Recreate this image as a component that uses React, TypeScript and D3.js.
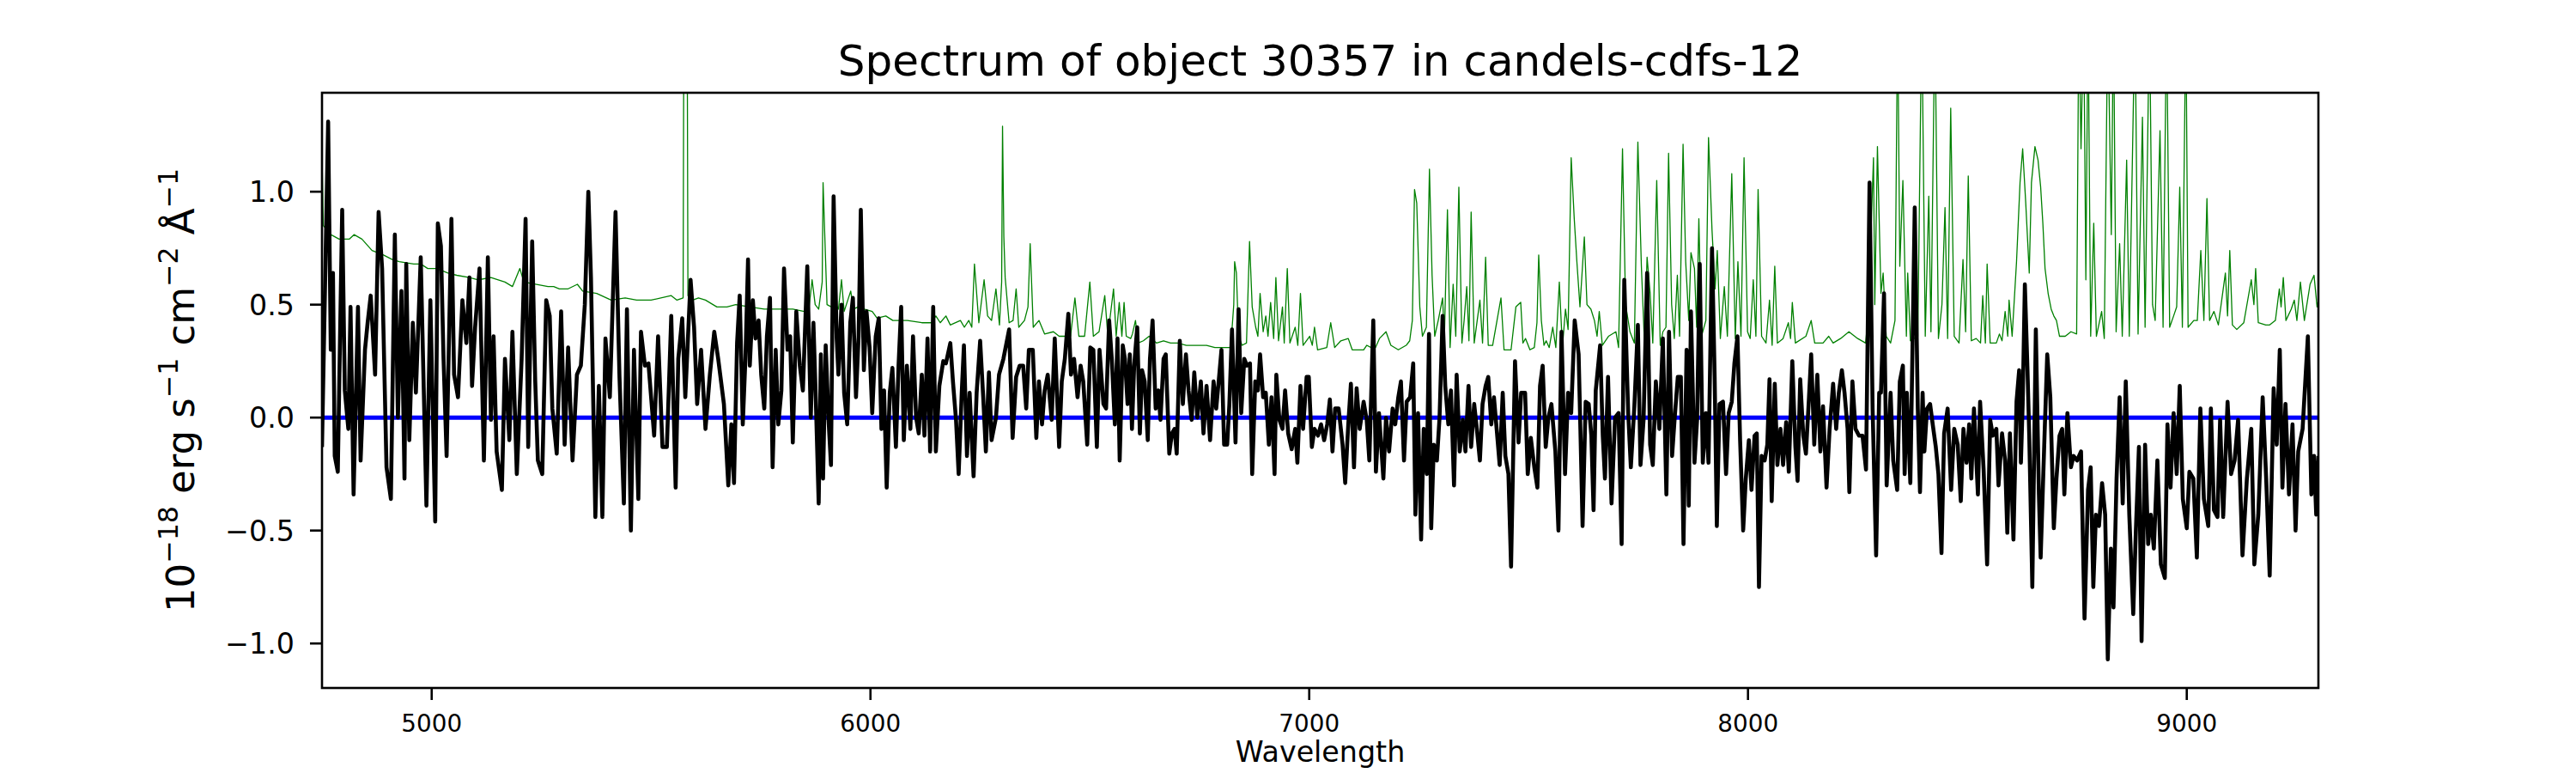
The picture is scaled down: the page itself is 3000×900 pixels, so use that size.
import { useMemo } from "react";
import * as d3 from "d3";

// plot frame (px) and axis limits
const width = 3000;
const height = 900;
const plot = { left: 375, right: 2700, top: 108, bottom: 801 };
const xDomain: [number, number] = [4750, 9300];
const yDomain: [number, number] = [-1.197, 1.438];
const xTicks = [5000, 6000, 7000, 8000, 9000];
const yTicks = [-1.0, -0.5, 0.0, 0.5, 1.0];
const zeroLevel = 0;

// flux: [wavelength, 1e-18 erg/s/cm2/A]
const fluxBlue: [number, number][] = [
  [4750,-0.13],[4764,1.31],[4770,0.30],[4775,0.64],[4779,-0.17],[4786,-0.24],[4796,0.92],[4802,0.12],[4810,-0.05],[4815,0.49],[4822,-0.34],[4832,0.49],[4838,-0.19],[4848,0.30],[4854,0.42],[4861,0.54],[4871,0.19],[4879,0.91],[4887,0.66],[4897,-0.22],[4907,-0.36],[4916,0.81],[4923,0.00],[4931,0.56],[4938,-0.27],[4942,0.68],[4949,-0.10],[4957,0.42],[4964,0.11],[4975,0.71],[4988,-0.39],[4997,0.52],[5008,-0.46],[5014,0.86],[5021,0.76],[5027,0.26],[5034,-0.17],[5045,0.88],[5051,0.19],[5060,0.09],[5070,0.52],[5079,0.33],[5086,0.62],[5092,0.14],[5099,0.40],[5109,0.66],[5119,-0.19],[5128,0.71],[5135,-0.01],[5141,0.36],[5148,-0.15],[5160,-0.32],[5167,0.26],[5177,-0.10],[5184,0.38],[5194,-0.25],[5205,0.26],[5214,0.88],[5220,-0.13],[5229,0.78],[5236,0.16],[5242,-0.19],[5252,-0.25],[5261,0.52],[5269,0.45],[5275,0.04],[5285,-0.16],[5295,0.47],[5303,-0.12],[5311,0.31],[5321,-0.19],[5331,0.19],[5340,0.23],[5349,0.50],[5357,1.00],[5363,0.62],[5373,-0.44],[5381,0.14],[5389,-0.44],[5396,0.35],[5406,0.09],[5419,0.91],[5428,0.18],[5438,-0.38],[5445,0.48],[5454,-0.50],[5461,0.30],[5471,-0.36],[5477,0.38],[5486,0.23],[5494,0.24],[5507,-0.08],[5516,0.36],[5526,-0.13],[5536,-0.13],[5546,0.45],[5556,-0.31],[5562,0.26],[5571,0.44],[5578,0.09],[5590,0.61],[5598,0.40],[5605,0.06],[5614,0.30],[5624,-0.05],[5634,0.19],[5644,0.38],[5653,0.26],[5666,0.06],
];
const fluxGreen: [number, number][] = [
  [5676,-0.30],[5683,-0.03],[5689,-0.29],[5696,0.33],[5702,0.54],[5709,-0.03],[5715,0.26],[5721,0.70],[5725,0.23],[5732,0.52],[5738,0.35],[5745,0.43],[5751,0.19],[5758,0.04],[5764,0.36],[5771,0.53],[5777,-0.22],[5784,0.30],[5790,-0.03],[5797,0.12],[5803,0.66],[5811,0.30],[5817,0.36],[5823,-0.11],[5831,0.47],[5839,0.23],[5846,0.12],[5856,0.67],[5864,0.00],[5870,0.42],[5875,0.11],[5882,-0.38],[5887,0.28],[5892,-0.27],[5898,0.32],[5905,-0.03],[5910,-0.21],[5916,0.98],[5923,0.35],[5927,0.19],[5934,0.50],[5940,0.11],[5947,-0.03],[5954,0.42],[5960,0.53],[5967,0.09],[5973,0.36],[5978,0.92],[5985,0.21],[5991,0.47],[5998,0.31],[6004,0.02],[6012,0.36],[6019,0.44],[6025,-0.05],[6031,0.12],[6037,-0.31],[6044,0.11],[6050,0.22],[6058,-0.13],[6064,0.23],[6070,0.49],[6076,-0.10],[6083,0.23],[6091,-0.05],[6097,0.36],[6104,0.00],[6110,-0.07],[6117,0.19],[6123,-0.08],[6130,0.35],[6136,-0.15],[6143,0.49],[6149,-0.15],[6157,0.14],[6166,0.25],[6172,0.24],[6182,0.33],[6188,0.16],[6195,-0.01],[6201,-0.25],[6208,0.11],[6213,0.32],[6220,-0.17],[6226,0.11],[6235,-0.26],[6242,0.11],[6250,0.34],[6257,0.09],[6263,-0.15],[6270,0.20],[6276,-0.10],[6286,0.00],[6293,0.19],[6303,0.26],[6316,0.39],[6324,-0.09],[6332,0.18],[6340,0.23],[6348,0.23],[6355,0.04],[6361,0.30],[6370,0.30],[6378,-0.09],[6384,0.16],[6391,-0.03],[6397,0.12],[6404,0.19],[6413,-0.01],[6420,0.35],[6430,-0.13],[6436,0.16],[6443,0.26],[6451,0.46],[6457,0.19],[6464,0.26],[6472,0.09],[6479,0.23],[6485,0.16],[6494,-0.12],[6501,0.31],[6508,0.30],[6516,-0.13],[6522,0.30],[6531,0.06],[6537,0.04],[6544,0.43],[6550,0.26],[6557,-0.03],[6563,0.35],[6568,-0.19],[6575,0.32],
];
const fluxRed: [number, number][] = [
  [6580,0.26],[6586,0.06],[6591,0.28],[6596,-0.05],[6601,0.23],[6608,0.40],[6614,-0.07],[6619,0.21],[6625,0.16],[6632,-0.10],[6637,0.26],[6643,0.43],[6650,0.04],[6656,0.12],[6661,-0.01],[6668,0.26],[6673,0.28],[6681,-0.16],[6687,-0.07],[6693,-0.05],[6698,-0.16],[6705,0.34],[6712,0.06],[6719,0.28],[6725,0.12],[6732,-0.01],[6738,0.20],[6745,0.00],[6753,0.16],[6759,-0.07],[6766,0.14],[6774,-0.10],[6782,0.16],[6788,0.04],[6795,0.19],[6800,0.30],[6806,-0.12],[6813,-0.12],[6818,0.06],[6824,0.39],[6832,-0.11],[6839,0.48],[6845,0.02],[6852,0.26],[6858,0.23],[6865,0.24],[6870,-0.25],[6877,0.16],[6883,0.12],[6888,0.28],[6895,0.09],[6901,0.11],[6908,-0.12],[6914,0.09],[6921,-0.25],[6925,0.19],[6932,-0.01],[6939,-0.05],[6945,0.12],[6952,-0.07],[6960,-0.14],[6968,-0.05],[6973,-0.20],[6980,0.14],[6986,-0.05],[6994,0.18],[6999,0.18],[7006,-0.13],[7012,-0.05],[7020,-0.08],[7027,-0.03],[7034,-0.10],[7041,-0.03],[7047,0.08],[7053,-0.15],[7059,0.04],[7067,0.04],[7076,-0.12],[7082,-0.29],[7089,-0.03],[7095,0.15],[7102,-0.22],[7108,0.13],[7115,-0.05],[7124,0.07],[7131,-0.01],[7137,-0.19],[7146,0.43],[7152,-0.24],[7159,0.02],[7169,-0.27],[7175,0.00],[7182,-0.15],[7190,0.04],[7196,-0.03],[7203,0.09],[7209,0.16],[7216,-0.19],[7222,0.07],[7230,0.09],[7237,0.24],[7242,-0.43],[7248,0.02],[7255,-0.54],[7261,-0.05],[7268,-0.25],[7273,0.37],[7278,-0.49],[7284,-0.12],[7291,-0.19],[7297,0.00],[7304,0.45],[7310,0.14],[7317,-0.03],[7323,0.12],[7330,-0.30],[7336,0.19],[7343,-0.15],[7350,-0.01],[7356,-0.15],[7363,0.14],[7369,-0.13],[7376,0.06],[7382,-0.05],[7389,-0.19],[7395,0.06],[7402,0.14],[7408,0.18],[7415,-0.03],[7421,0.09],[7428,-0.07],[7434,-0.21],[7441,0.11],[7447,-0.17],[7454,-0.25],[7460,-0.66],[7469,0.25],[7477,-0.11],[7483,0.11],
];
const fluxNearIR: [number, number][] = [
  [7492,0.11],[7498,-0.25],[7505,-0.09],[7513,-0.22],[7520,-0.31],[7526,0.14],[7532,0.23],[7539,-0.13],[7545,0.00],[7552,0.06],[7561,-0.15],[7568,-0.50],[7575,0.38],[7583,-0.25],[7590,0.11],[7597,0.02],[7605,0.43],[7614,0.28],[7618,-0.05],[7623,-0.48],[7630,0.07],[7637,0.06],[7643,-0.08],[7648,-0.41],[7653,0.12],[7663,0.32],[7669,-0.08],[7674,-0.27],[7681,0.18],[7689,-0.38],[7697,0.00],[7705,0.02],[7712,-0.56],[7718,0.61],[7727,0.02],[7733,-0.22],[7741,0.05],[7749,0.41],[7755,-0.21],[7762,-0.01],[7770,0.64],[7777,-0.12],[7783,-0.21],[7790,0.16],[7798,-0.05],[7806,0.35],[7814,-0.34],[7820,0.38],[7827,-0.17],[7833,0.00],[7840,0.18],[7847,0.18],[7853,-0.56],[7860,0.30],[7865,-0.39],[7870,0.47],[7878,-0.20],[7884,-0.01],[7890,0.68],[7897,-0.20],[7904,0.02],[7910,-0.20],[7918,0.75],[7924,0.18],[7929,-0.48],[7935,0.06],[7943,0.07],[7950,-0.25],[7956,0.02],[7963,0.07],[7969,0.24],[7976,0.36],[7982,-0.10],[7989,-0.50],[7995,-0.27],[8002,-0.10],[8008,-0.32],[8015,-0.08],[8020,-0.07],[8025,-0.75],[8031,-0.17],[8038,-0.19],[8044,-0.12],[8049,0.17],[8054,-0.37],[8061,0.15],[8067,-0.21],[8074,-0.05],[8080,-0.21],[8087,-0.02],[8093,-0.24],[8101,0.25],[8108,-0.13],[8113,-0.28],[8119,0.17],[8126,-0.08],[8132,-0.16],[8139,0.09],[8144,0.28],[8151,-0.12],[8158,0.19],[8165,-0.15],[8171,0.05],[8179,-0.31],[8186,-0.05],[8194,0.15],[8201,-0.05],[8207,0.11],[8214,0.21],[8220,0.11],[8227,-0.05],[8231,-0.33],[8238,0.16],[8245,-0.05],[8253,-0.08],[8261,-0.08],[8269,-0.23],[8277,1.04],[8284,0.04],[8292,-0.61],[8299,0.11],[8303,0.11],[8310,0.55],[8316,-0.30],[8325,0.11],[8331,-0.19],[8340,-0.32],[8346,0.16],[8353,0.23],[8357,-0.25],[8362,0.11],[8370,-0.29],[8380,0.93],[8387,0.04],[8392,-0.33],[8398,0.11],
];
const fluxZband: [number, number][] = [
  [8402,-0.15],[8408,0.04],[8415,0.06],[8421,-0.03],[8428,-0.13],[8434,-0.25],[8441,-0.60],[8447,-0.07],[8455,0.04],[8463,-0.32],[8470,-0.05],[8478,-0.12],[8485,-0.37],[8491,-0.05],[8498,-0.20],[8504,-0.03],[8509,-0.27],[8515,0.04],[8524,-0.34],[8529,0.07],[8537,-0.23],[8545,-0.65],[8552,-0.01],[8558,-0.08],[8566,-0.05],[8571,-0.30],[8579,-0.07],[8586,-0.19],[8591,-0.51],[8597,-0.07],[8605,-0.54],[8612,0.07],[8618,0.21],[8622,-0.20],[8626,0.06],[8631,0.59],[8637,0.21],[8641,-0.08],[8648,-0.75],[8656,0.39],[8663,-0.34],[8667,-0.62],[8676,-0.07],[8682,0.28],[8689,0.09],[8697,-0.49],[8703,-0.27],[8710,-0.08],[8716,-0.05],[8721,-0.34],[8728,0.02],[8736,-0.22],[8742,-0.17],[8750,-0.19],[8759,-0.15],[8767,-0.89],[8775,-0.32],[8781,-0.22],[8787,-0.75],[8793,-0.43],[8800,-0.48],[8807,-0.29],[8814,-0.43],[8820,-1.07],[8827,-0.58],[8833,-0.84],[8840,-0.27],[8847,0.09],[8854,-0.38],[8861,0.16],[8869,-0.43],[8878,-0.87],[8884,-0.50],[8891,-0.13],[8897,-0.99],[8905,-0.12],[8912,-0.56],[8918,-0.43],[8925,-0.58],[8933,-0.19],[8941,-0.65],[8950,-0.71],[8956,-0.03],[8963,-0.31],[8970,0.02],[8977,-0.25],[8984,0.14],[8991,-0.36],[9000,-0.49],[9006,-0.24],[9015,-0.27],[9023,-0.62],[9031,0.04],[9039,-0.36],[9049,-0.48],[9055,0.04],[9062,-0.41],[9070,-0.44],[9076,-0.01],[9083,-0.44],[9093,0.07],[9101,-0.25],[9109,-0.19],[9117,-0.01],[9127,-0.61],[9137,-0.27],[9147,-0.05],[9154,-0.65],[9163,-0.43],[9173,0.09],[9181,-0.27],[9189,-0.70],[9198,0.13],[9205,-0.12],[9212,0.30],[9218,-0.31],[9225,0.06],[9233,-0.34],[9241,-0.03],[9248,-0.50],[9254,-0.15],[9264,-0.05],[9276,0.36],[9284,-0.34],[9290,-0.17],[9295,-0.43],[9300,-0.17],
];

// noise (green), same units; sky lines run off the top
const errBlue: [number, number][] = [
  [4750,1.16],[4753,0.85],[4770,0.81],[4789,0.79],[4812,0.79],[4823,0.81],[4841,0.79],[4864,0.74],[4890,0.72],[4910,0.70],[4926,0.69],[4959,0.68],[4975,0.68],[4991,0.66],[5011,0.66],[5037,0.64],[5057,0.63],[5086,0.62],[5106,0.61],[5135,0.62],[5167,0.60],[5184,0.58],[5201,0.66],[5210,0.60],[5239,0.59],[5265,0.58],[5278,0.58],[5291,0.57],[5311,0.57],[5332,0.59],[5344,0.56],[5376,0.55],[5409,0.52],[5441,0.53],[5467,0.52],[5500,0.52],[5546,0.54],[5559,0.52],[5573,0.53],[5575,2.0],[5582,2.0],[5584,0.54],[5595,0.52],[5608,0.53],[5624,0.52],[5650,0.49],[5660,0.49],
];
const errGreen: [number, number][] = [
  [5673,0.49],[5693,0.50],[5725,0.49],[5758,0.48],[5790,0.48],[5823,0.48],[5849,0.47],[5859,0.47],[5867,0.61],[5874,0.50],[5882,0.48],[5890,0.60],[5892,1.04],[5896,0.80],[5901,0.50],[5911,0.49],[5921,0.50],[5927,0.48],[5934,0.61],[5940,0.47],[5955,0.56],[5961,0.48],[5972,0.49],[5986,0.48],[6004,0.47],[6015,0.44],[6035,0.45],[6051,0.43],[6084,0.43],[6117,0.42],[6139,0.42],[6149,0.45],[6159,0.42],[6172,0.45],[6182,0.41],[6205,0.43],[6214,0.40],[6224,0.43],[6231,0.40],[6237,0.68],[6247,0.42],[6259,0.61],[6267,0.45],[6276,0.43],[6286,0.57],[6294,0.41],[6299,0.60],[6301,1.29],[6304,0.80],[6307,0.62],[6316,0.42],[6325,0.43],[6332,0.57],[6338,0.40],[6351,0.43],[6359,0.49],[6364,0.77],[6371,0.40],[6384,0.43],[6397,0.37],[6417,0.38],[6430,0.36],[6443,0.36],[6456,0.36],[6466,0.53],[6475,0.36],[6488,0.36],[6500,0.60],[6508,0.36],[6521,0.38],[6534,0.54],[6541,0.36],[6554,0.57],[6560,0.36],[6567,0.51],[6573,0.36],
];
const errRed: [number, number][] = [
  [6578,0.51],[6583,0.36],[6593,0.35],[6597,0.37],[6604,0.43],[6610,0.33],[6622,0.34],[6635,0.36],[6652,0.33],[6668,0.34],[6684,0.33],[6700,0.33],[6720,0.32],[6743,0.32],[6766,0.32],[6785,0.31],[6805,0.31],[6821,0.31],[6828,0.50],[6830,0.69],[6834,0.64],[6839,0.36],[6847,0.32],[6857,0.33],[6864,0.78],[6870,0.49],[6878,0.40],[6883,0.36],[6888,0.55],[6895,0.38],[6901,0.45],[6906,0.36],[6912,0.51],[6919,0.35],[6924,0.62],[6930,0.34],[6939,0.49],[6943,0.33],[6950,0.66],[6956,0.33],[6968,0.40],[6974,0.32],[6980,0.55],[6986,0.32],[7001,0.36],[7007,0.32],[7012,0.40],[7019,0.30],[7040,0.31],[7049,0.42],[7058,0.31],[7072,0.34],[7089,0.35],[7098,0.30],[7124,0.30],[7131,0.32],[7141,0.31],[7151,0.31],[7160,0.35],[7175,0.38],[7186,0.32],[7203,0.30],[7221,0.32],[7229,0.34],[7235,0.43],[7240,1.01],[7245,0.95],[7252,0.49],[7258,0.36],[7267,0.40],[7274,1.10],[7280,0.63],[7286,0.36],[7294,0.43],[7304,0.53],[7308,0.35],[7315,0.92],[7321,0.31],[7328,0.59],[7334,0.36],[7341,1.02],[7348,0.33],[7353,0.43],[7359,0.58],[7364,0.34],[7369,0.91],[7376,0.33],[7389,0.52],[7395,0.33],[7402,0.71],[7408,0.32],[7418,0.32],[7428,0.43],[7437,0.53],[7444,0.30],[7460,0.30],[7471,0.49],[7482,0.51],
];
const errNearIR: [number, number][] = [
  [7487,0.33],[7493,0.35],[7503,0.30],[7513,0.31],[7519,0.42],[7523,0.72],[7529,0.43],[7535,0.32],[7540,0.34],[7547,0.31],[7555,0.40],[7562,0.31],[7570,0.60],[7577,0.31],[7584,0.48],[7590,0.39],[7597,1.15],[7604,0.88],[7610,0.69],[7617,0.49],[7627,0.80],[7633,0.50],[7642,0.48],[7650,0.43],[7656,0.36],[7661,0.47],[7668,0.32],[7682,0.36],[7699,0.38],[7705,0.31],[7714,1.19],[7721,0.50],[7731,0.38],[7741,0.33],[7749,1.22],[7757,0.67],[7764,0.33],[7770,0.71],[7777,0.55],[7783,0.33],[7792,1.05],[7800,0.32],[7806,0.38],[7813,0.40],[7819,1.17],[7826,0.50],[7832,0.35],[7839,0.63],[7844,0.36],[7852,1.21],[7858,0.69],[7865,0.43],[7870,0.73],[7878,0.66],[7883,0.40],[7888,0.88],[7894,0.36],[7904,0.43],[7910,1.24],[7918,0.83],[7925,0.57],[7930,0.74],[7937,0.35],[7946,0.58],[7953,0.36],[7963,1.08],[7971,0.35],[7977,0.69],[7984,0.36],[7991,1.15],[7999,0.38],[8005,0.35],[8012,0.61],[8018,0.36],[8023,1.01],[8031,0.36],[8041,0.33],[8049,0.52],[8055,0.32],[8061,0.67],[8067,0.33],[8080,0.35],[8092,0.42],[8097,0.35],[8101,0.51],[8108,0.33],[8132,0.36],[8144,0.43],[8152,0.33],[8171,0.33],[8184,0.36],[8194,0.33],[8211,0.35],[8230,0.38],[8250,0.35],[8268,0.33],[8274,0.45],[8286,1.15],[8289,0.50],[8295,1.20],[8303,0.55],[8308,0.64],[8315,0.36],[8325,0.33],[8335,0.43],[8341,1.8],[8346,0.67],[8353,1.05],[8361,0.36],[8364,0.64],[8370,0.34],[8387,0.36],[8396,1.8],
];
const errZband: [number, number][] = [
  [8404,0.36],[8412,0.98],[8417,0.38],[8426,1.8],[8434,0.35],[8442,0.50],[8449,0.93],[8455,0.35],[8462,1.37],[8470,0.36],[8481,0.33],[8490,0.70],[8496,0.38],[8502,1.07],[8509,0.34],[8520,0.35],[8530,0.33],[8535,0.54],[8541,0.33],[8545,0.68],[8552,0.33],[8566,0.33],[8573,0.37],[8579,0.34],[8586,0.47],[8592,0.36],[8595,0.52],[8602,0.36],[8612,0.69],[8620,1.04],[8626,1.19],[8633,0.95],[8641,0.64],[8646,1.04],[8654,1.20],[8661,1.14],[8667,1.02],[8672,0.86],[8677,0.66],[8684,0.55],[8691,0.48],[8697,0.45],[8703,0.43],[8710,0.36],[8723,0.36],[8736,0.38],[8749,0.37],[8754,1.8],[8759,1.19],[8765,1.8],[8770,0.61],[8775,1.8],[8781,0.36],[8788,0.86],[8794,0.36],[8806,0.47],[8812,0.35],[8820,1.8],[8828,0.81],[8833,1.8],[8839,0.38],[8847,0.77],[8853,0.36],[8863,1.14],[8869,0.36],[8882,1.8],[8889,0.37],[8899,1.33],[8905,0.40],[8915,1.8],[8922,0.50],[8928,0.43],[8939,1.27],[8946,0.40],[8954,1.8],[8961,0.40],[8970,0.45],[8977,0.49],[8984,1.02],[8990,0.40],[8998,1.8],[9003,0.40],[9016,0.43],[9024,0.43],[9032,0.74],[9039,0.43],[9046,0.97],[9052,0.43],[9062,0.47],[9072,0.41],[9088,0.64],[9093,0.45],[9098,0.74],[9104,0.41],[9114,0.39],[9130,0.42],[9147,0.61],[9153,0.50],[9157,0.66],[9163,0.42],[9180,0.41],[9189,0.41],[9202,0.43],[9211,0.57],[9215,0.49],[9220,0.62],[9226,0.43],[9238,0.48],[9245,0.52],[9251,0.43],[9259,0.60],[9268,0.43],[9281,0.59],[9290,0.63],[9297,0.49],[9300,0.52],
];

const title = "Spectrum of object 30357 in candels-cdfs-12";
const xLabel = "Wavelength";

const fmtY = (v: number) => d3.format(".1f")(v).replace("-", "\u2212");

export default function App() {
  const xScale = useMemo(
    () => d3.scaleLinear().domain(xDomain).range([plot.left, plot.right]),
    []
  );
  const yScale = useMemo(
    () => d3.scaleLinear().domain(yDomain).range([plot.bottom, plot.top]),
    []
  );

  const line = useMemo(
    () =>
      d3
        .line<[number, number]>()
        .x((d) => xScale(d[0]))
        .y((d) => yScale(d[1])),
    [xScale, yScale]
  );

  const fluxPath = line([...fluxBlue, ...fluxGreen, ...fluxRed, ...fluxNearIR, ...fluxZband]) || "";
  const errPath = line([...errBlue, ...errGreen, ...errRed, ...errNearIR, ...errZband]) || "";

  const cx = (plot.left + plot.right) / 2;
  const cy = (plot.top + plot.bottom) / 2;

  return (
    <svg
      width={width}
      height={height}
      style={{ position: "absolute", left: 0, top: 0, background: "#fff" }}
      fontFamily="DejaVu Sans"
    >
      <defs>
        <clipPath id="plotArea">
          <rect x={plot.left} y={plot.top} width={plot.right - plot.left} height={plot.bottom - plot.top} />
        </clipPath>
      </defs>

      <g clipPath="url(#plotArea)">
        {/* zero level sits under the spectrum */}
        <line
          x1={xScale(xDomain[0])}
          x2={xScale(xDomain[1])}
          y1={yScale(zeroLevel)}
          y2={yScale(zeroLevel)}
          stroke="#0000ff"
          strokeWidth={5}
        />
        <path d={errPath} fill="none" stroke="#008000" strokeWidth={1.3} strokeLinejoin="round" />
        <path d={fluxPath} fill="none" stroke="#000" strokeWidth={4.6} strokeLinejoin="round" />
      </g>

      <rect
        x={plot.left}
        y={plot.top}
        width={plot.right - plot.left}
        height={plot.bottom - plot.top}
        fill="none"
        stroke="#000"
        strokeWidth={2.6}
      />

      {xTicks.map((t) => (
        <g key={t}>
          <line x1={xScale(t)} x2={xScale(t)} y1={plot.bottom} y2={plot.bottom + 14} stroke="#000" strokeWidth={2.6} />
          <text x={xScale(t)} y={852} fontSize={27.8} textAnchor="middle">
            {t}
          </text>
        </g>
      ))}

      {yTicks.map((t) => (
        <g key={t}>
          <line x1={plot.left - 14} x2={plot.left} y1={yScale(t)} y2={yScale(t)} stroke="#000" strokeWidth={2.6} />
          <text x={343} y={yScale(t)} dy="0.36em" fontSize={33.3} textAnchor="end">
            {fmtY(t)}
          </text>
        </g>
      ))}

      <text x={cx} y={88} fontSize={50} textAnchor="middle">
        {title}
      </text>

      <text x={cx} y={887} fontSize={33.3} textAnchor="middle">
        {xLabel}
      </text>

      <text transform={`translate(226,${cy}) rotate(-90)`} fontSize={45} textAnchor="middle">
        <tspan>10</tspan>
        <tspan dy={-19} fontSize={31.5}>{"\u221218"}</tspan>
        <tspan dy={19}> erg s</tspan>
        <tspan dy={-19} fontSize={31.5}>{"\u22121"}</tspan>
        <tspan dy={19}> cm</tspan>
        <tspan dy={-19} fontSize={31.5}>{"\u22122"}</tspan>
        <tspan dy={19}> Å</tspan>
        <tspan dy={-19} fontSize={31.5}>{"\u22121"}</tspan>
      </text>
    </svg>
  );
}
